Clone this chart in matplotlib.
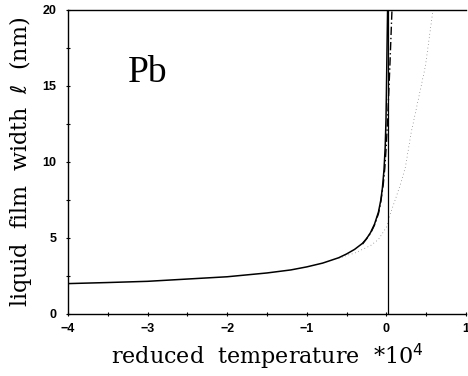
import matplotlib
matplotlib.use("Agg")
import matplotlib.pyplot as plt
from matplotlib.ticker import MultipleLocator

# reduced temperature (x 1e-4) and liquid film width (nm)
t_full = [-4.0, -3.5, -3.0, -2.5, -2.0, -1.5, -1.2, -1.0, -0.8, -0.6, -0.5, -0.4,
          -0.3, -0.25, -0.2, -0.15, -0.1, -0.07, -0.05, -0.03, -0.015, -0.005, 0.0, 0.008, 0.015]
l_full = [2.0, 2.07, 2.15, 2.3, 2.45, 2.7, 2.9, 3.1, 3.35, 3.7, 3.95, 4.25,
          4.65, 4.95, 5.35, 5.9, 6.7, 7.5, 8.3, 9.5, 11.0, 12.8, 14.5, 17.5, 20.0]

t_dash = [-0.3, -0.2, -0.15, -0.1, -0.07, -0.04, -0.02, 0.0, 0.015, 0.03, 0.045, 0.06, 0.07]
l_dash = [4.6, 5.3, 5.85, 6.6, 7.4, 8.5, 9.6, 11.2, 12.8, 14.6, 16.5, 18.6, 20.0]

t_dot = [-0.6, -0.5, -0.4, -0.3, -0.2, -0.1, 0.0, 0.05, 0.11, 0.18, 0.24, 0.31, 0.4, 0.49, 0.58]
l_dot = [3.65, 3.85, 4.0, 4.25, 4.5, 4.9, 5.7, 6.6, 7.5, 8.6, 9.7, 11.9, 14.1, 16.3, 19.8]

t_c = [0.02, 0.02]
l_c = [0.0, 20.0]

xticks = [-4, -3, -2, -1, 0, 1]
yticks = [0, 5, 10, 15, 20]

fig = plt.figure(figsize=(4.68, 3.76), dpi=100)
ax = fig.add_axes([68 / 468, 62 / 376, 398 / 468, 304 / 376])

ax.plot(t_full, l_full, color="black", lw=1.1)
ax.plot(t_dash, l_dash, color="black", lw=1.0, ls=(0, (6, 2, 1, 2)))
ax.plot(t_dot, l_dot, color="#555555", lw=0.5, ls=(0, (1, 4)))
ax.plot(t_c, l_c, color="black", lw=0.9)

ax.set_xlim(-4, 1)
ax.set_ylim(0, 20)
ax.set_xticks(xticks)
ax.set_yticks(yticks)
ax.set_xticklabels(["\u22124", "\u22123", "\u22122", "\u22121", "0", "1"])
ax.xaxis.set_minor_locator(MultipleLocator(0.5))
ax.yaxis.set_minor_locator(MultipleLocator(2.5))
ax.tick_params(which="both", direction="inout", length=3, width=0.8)
ax.tick_params(axis="x", labelsize=9, pad=5)
ax.tick_params(axis="y", labelsize=9, pad=7)
for lab in ax.get_xticklabels() + ax.get_yticklabels():
    lab.set_fontweight("bold")
    lab.set_family("Liberation Sans")
ax.spines["right"].set_visible(False)
for s in ["left", "bottom", "top"]:
    ax.spines[s].set_linewidth(1.0)

ax.set_xlabel("reduced  temperature  *10$^4$", family="DejaVu Serif",
              fontsize=16, labelpad=5)
ax.set_ylabel("liquid  film  width  $\\ell$  (nm)", family="DejaVu Serif",
              fontsize=16, labelpad=6)
ax.text(-3.25, 15.9, "Pb", family="Liberation Serif", fontsize=27,
        ha="left", va="center")

fig.savefig("out.png", dpi=100)
